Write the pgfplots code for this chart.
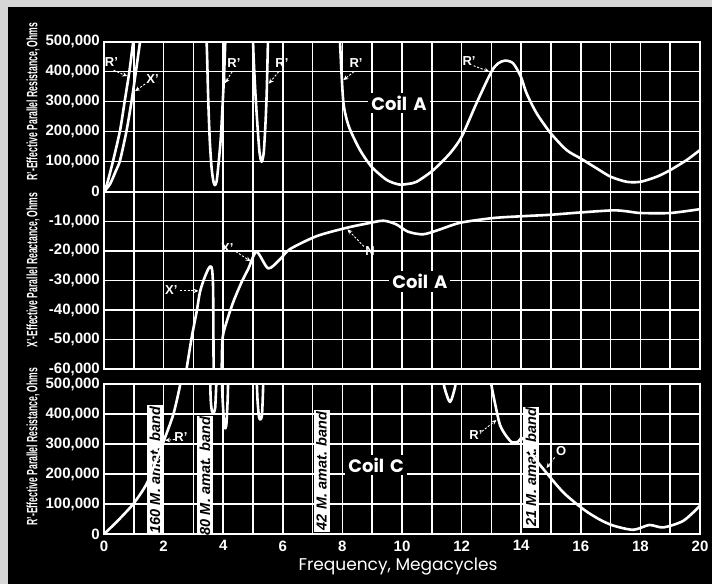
\documentclass[border=0pt]{standalone}
\usepackage{fontspec}
\setmainfont{Liberation Sans}
\newfontfamily\pop{Poppins}
\usepackage{graphicx}
\usepackage{pgfplots}
\pgfplotsset{compat=1.18}
\usetikzlibrary{arrows.meta}
\definecolor{bord}{RGB}{214,214,214}

\newcommand\tickfont{\fontsize{15}{15}\selectfont\bfseries}
\newcommand\annfont{\fontsize{13}{13}\selectfont\bfseries}

\pgfplotsset{
  panel/.style={
    scale only axis, width=596pt,
    xmin=0, xmax=20, xtick={0,1,...,20},
    grid=major,
    major grid style={draw=white, line width=1.5pt},
    axis line style={draw=white, line width=2.2pt},
    tick style={draw=none},
    major tick length=0pt,
    scaled ticks=false,
    axis background/.style={fill=black},
    yticklabel style={text=white, font=\tickfont, inner sep=1pt, xshift=-3pt},
    xticklabel style={text=white, font=\tickfont, yshift=-3pt},
    cycle list={{draw=white, mark=none}},
    every axis plot post/.append style={draw=white, line width=2.6pt, line join=round, line cap=round, mark=none, smooth, tension=0.45},
    clip=true,
  },
}
\tikzset{
  ann/.style={text=white, font=\annfont, inner sep=1pt},
  arr/.style={draw=white, line width=0.9pt, dash pattern=on 2.2pt off 1.6pt, -{Stealth[length=5pt,width=4.5pt]}},
  coil/.style={fill=black, text=white, font=\pop\fontsize{18}{18}\selectfont\bfseries, inner sep=3pt},
  band/.style={fill=white, text=black, rotate=90, font=\fontsize{14.5}{14.5}\selectfont\bfseries\itshape, inner sep=1.5pt, minimum height=16pt},
}

\begin{document}
\begin{tikzpicture}[x=1pt, y=1pt]
\useasboundingbox (0,0) rectangle (712,584);
\fill[bord] (0,0) rectangle (712,584);
\fill[black] (8,0) rectangle (712,577);

% ---------- top panel: Coil A, R'
\begin{axis}[panel, at={(104pt,392.3pt)}, anchor=south west, height=150pt,
  ymin=0, ymax=500000,
  ytick={0,100000,200000,300000,400000,500000},
  yticklabels={0,{100,000},{200,000},{300,000},{400,000},{500,000}},
  xticklabels={}]
\addplot coordinates {(0,0) (0.1,25000) (0.31,105000) (0.54,205000) (0.70,305000) (0.85,400000) (0.98,500000) (1.03,540000)};
\addplot coordinates {(0,0) (0.2,25000) (0.4,70000) (0.54,105000) (0.76,205000) (0.93,305000) (1.07,400000) (1.21,500000) (1.25,530000)};
\addplot coordinates {(3.43,540000) (3.46,450000) (3.50,300000) (3.55,170000) (3.61,80000) (3.67,35000) (3.72,22000) (3.78,35000) (3.85,100000) (3.92,180000) (3.98,290000) (4.03,390000) (4.07,500000) (4.09,540000)};
\addplot coordinates {(4.99,540000) (5.02,450000) (5.08,330000) (5.15,220000) (5.22,130000) (5.29,100000) (5.36,130000) (5.42,230000) (5.46,330000) (5.49,450000) (5.51,540000)};
\addplot coordinates {(7.90,540000) (7.92,500000) (7.97,395000) (8.03,300000) (8.12,250000) (8.26,206000) (8.59,139000) (8.98,83000) (9.49,39000) (9.9,24000) (10.2,26000) (10.49,33000) (11.05,72000) (11.61,128000) (12.0,183000) (12.5,295000) (13.0,400000) (13.23,428000) (13.46,437000) (13.73,428000) (13.99,383000) (14.18,328000) (14.52,261000) (14.99,195000) (15.52,139000) (15.99,111000) (16.53,78000) (17.0,50000) (17.54,33000) (18.0,33000) (18.55,50000) (19.0,72000) (19.56,106000) (20.0,139000)};
\node[ann] at (axis cs:0.25,432000) {R'};
\draw[arr] (axis cs:0.32,405000) -- (axis cs:0.78,385000);
\node[ann] at (axis cs:1.63,376000) {X'};
\draw[arr] (axis cs:1.38,359000) -- (axis cs:1.04,335000);
\node[ann] at (axis cs:4.36,429000) {R'};
\draw[arr] (axis cs:4.3,400000) -- (axis cs:4.06,362000);
\node[ann] at (axis cs:5.97,429000) {R'};
\draw[arr] (axis cs:5.86,400000) -- (axis cs:5.53,360000);
\node[ann] at (axis cs:8.46,429000) {R'};
\draw[arr] (axis cs:8.39,400000) -- (axis cs:8.03,372000);
\node[ann] at (axis cs:12.25,436000) {R'};
\draw[arr] (axis cs:12.4,420000) -- (axis cs:12.93,400000);
\node[coil] at (axis cs:9.9,296000) {Coil\,\,A};
\end{axis}

% ---------- middle panel: Coil A, X'
\begin{axis}[panel, at={(104pt,214.7pt)}, anchor=south west, height=177.6pt,
  ymin=-60000, ymax=0,
  ytick={-60000,-50000,-40000,-30000,-20000,-10000,0},
  yticklabels={{-60,000},{-50,000},{-40,000},{-30,000},{-20,000},{-10,000},{}},
  xticklabels={}]
\addplot coordinates {(2.74,-63000) (2.77,-60000) (2.94,-49400) (3.11,-40500) (3.22,-33900) (3.36,-29400) (3.50,-26100) (3.58,-25200) (3.63,-26500) (3.66,-32000) (3.67,-45000) (3.68,-63000)};
\addplot coordinates {(3.94,-63000) (3.95,-59400) (3.98,-49400) (4.12,-43800) (4.34,-37200) (4.62,-30500) (4.84,-26100) (5.12,-20300) (5.51,-25900) (5.91,-22800) (6.24,-19400) (7.14,-15000) (8.14,-12200) (8.8,-10800) (9.37,-9800) (9.8,-11000) (10.2,-13500) (10.7,-14400) (11.2,-13000) (11.95,-10500) (13.06,-8900) (14.0,-8300) (14.97,-7800) (16.0,-7000) (17.1,-6300) (17.6,-6700) (18,-7200) (19,-7200) (20,-5900)};
\node[ann] at (axis cs:2.26,-33300) {X'};
\draw[arr] (axis cs:2.55,-33500) -- (axis cs:3.17,-33500);
\node[ann] at (axis cs:4.14,-18900) {X'};
\draw[arr] (axis cs:4.42,-20200) -- (axis cs:4.92,-23500);
\node[ann] at (axis cs:8.93,-19900) {N};
\draw[arr] (axis cs:8.72,-18500) -- (axis cs:8.17,-12700);
\node[coil] at (axis cs:10.6,-30400) {Coil\,\,A};
\end{axis}

% ---------- bottom panel: Coil C, R'
\begin{axis}[panel, at={(104pt,50pt)}, anchor=south west, height=150pt,
  ymin=0, ymax=500000,
  ytick={0,100000,200000,300000,400000,500000},
  yticklabels={0,{100,000},{200,000},{300,000},{400,000},{500,000}},
  xticklabels={0,,2,,4,,6,,8,,10,,12,,14,,16,,18,,20}]
\node[band] at (axis cs:1.71,213000) {160 M. amat. band};
\node[band] at (axis cs:3.39,193000) {80 M. amat. band};
\node[band] at (axis cs:7.3,210000) {42 M. amat. band};
\node[band] at (axis cs:14.33,223000) {21 M. amat. band};
\addplot coordinates {(0,0) (0.43,41000) (0.98,100000) (1.43,167000) (1.77,250000) (1.99,306000) (2.33,400000) (2.55,495000) (2.58,530000)};
\addplot coordinates {(3.56,530000) (3.58,450000) (3.62,410000) (3.68,405000) (3.73,420000) (3.76,480000) (3.78,530000)};
\addplot coordinates {(3.95,530000) (3.98,450000) (4.03,370000) (4.07,352000) (4.11,370000) (4.15,450000) (4.17,530000)};
\addplot coordinates {(5.12,530000) (5.15,450000) (5.2,390000) (5.25,382000) (5.3,395000) (5.33,460000) (5.35,530000)};
\addplot coordinates {(11.38,530000) (11.42,490000) (11.61,440000) (11.78,490000) (11.82,530000)};
\addplot coordinates {(12.98,530000) (13.0,497000) (13.12,436000) (13.29,363000) (13.51,325000) (13.7,305000) (13.9,308000) (14.0,320000) (14.1,312000) (14.4,260000) (14.74,217000) (15.41,139000) (16.08,83000) (16.6,50000) (17.09,28000) (17.76,14000) (18.3,30000) (18.77,22000) (19.44,44000) (20,94000)};
\node[ann] at (axis cs:2.58,322000) {R'};
\draw[arr] (axis cs:2.38,315000) -- (axis cs:2.05,312000);
\node[ann] at (axis cs:12.48,330000) {R'};
\draw[arr] (axis cs:12.68,342000) -- (axis cs:13.17,380000);
\node[ann] at (axis cs:15.34,275000) {O};
\draw[arr] (axis cs:15.12,255000) -- (axis cs:14.85,220000);
\node[coil] at (axis cs:9.13,230000) {Coil\,\,C};
\end{axis}

% ---------- axis titles
\node[rotate=90, text=white, inner sep=0pt] at (33,482.5) {\scalebox{0.575}[1]{\fontsize{15}{15}\selectfont\bfseries R'-Effective Parallel Resistance, Ohms}};
\node[rotate=90, text=white, inner sep=0pt] at (33,314) {\scalebox{0.575}[1]{\fontsize{15}{15}\selectfont\bfseries X'-Effective Parallel Reactance, Ohms}};
\node[rotate=90, text=white, inner sep=0pt] at (33,137.5) {\scalebox{0.575}[1]{\fontsize{15}{15}\selectfont\bfseries R'-Effective Parallel Resistance, Ohms}};
\node[text=white, font=\pop\fontsize{17}{17}\selectfont] at (398,17) {Frequency, Megacycles};
\end{tikzpicture}
\end{document}
